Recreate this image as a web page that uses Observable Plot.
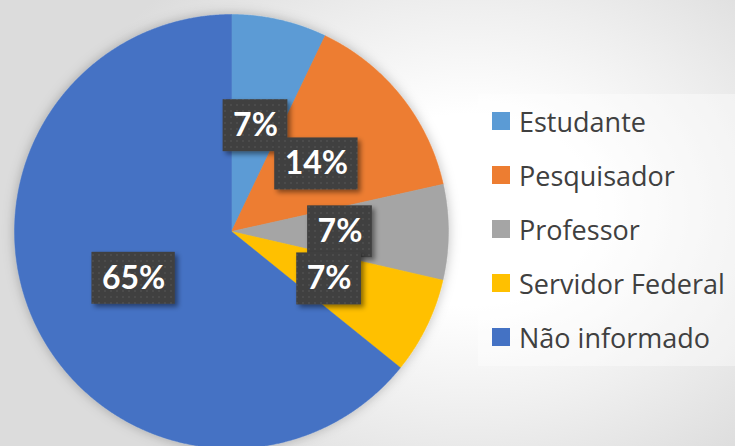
<!DOCTYPE html>
<html>
<head>
<meta charset="utf-8">
<script src="https://cdn.jsdelivr.net/npm/d3@7"></script>
<script src="https://cdn.jsdelivr.net/npm/@observablehq/plot@0.6"></script>
<style>
  html, body { margin: 0; padding: 0; }
  body {
    width: 735px; height: 446px; overflow: hidden;
    background: radial-gradient(ellipse 420px 320px at 470px 210px, #ffffff 0%, #ffffff 30%, #eeeeee 65%, #dcdcdc 100%);
  }
  #wrap { position: relative; width: 735px; height: 446px; }
  #chart svg { display: block; }
  #legend {
    position: absolute; left: 478px; top: 94px; width: 257px; height: 272px;
    background: rgba(255,255,255,0.4);
    font-family: "Open Sans", "Noto Sans", sans-serif; font-size: 27px; color: #404040;
  }
  .row { height: 54px; display: flex; align-items: center; white-space: nowrap; }
  .sw { width: 18px; height: 18px; margin-left: 14px; margin-right: 9px; flex: none; }
</style>
</head>
<body>
<div id="wrap">
  <div id="chart"></div>
  <div id="legend"></div>
</div>
<script>
const categories = ["Estudante", "Pesquisador", "Professor", "Servidor Federal", "Não informado"];
const shares = [7.1, 14.4, 7.1, 7.2, 64.2];
const labels = ["7%", "14%", "7%", "7%", "65%"];
const colors = ["#5B9BD5", "#ED7D31", "#A5A5A5", "#FFC000", "#4472C4"];

const R = 217;
const data = categories.map((c, i) => ({cat: c, share: shares[i], label: labels[i]}));
const arcs = d3.pie().sort(null).value(d => d.share)(data);

// slice outlines (center -> arc -> center)
const pts = [];
arcs.forEach(a => {
  const n = Math.max(4, Math.ceil((a.endAngle - a.startAngle) / 0.005));
  pts.push({cat: a.data.cat, x: 0, y: 0});
  for (let k = 0; k <= n; k++) {
    const t = a.startAngle + (a.endAngle - a.startAngle) * k / n;
    pts.push({cat: a.data.cat, x: R * Math.sin(t), y: -R * Math.cos(t)});
  }
  pts.push({cat: a.data.cat, x: 0, y: 0});
});

// label positions at half radius on mid angle
const ctx = document.createElement("canvas").getContext("2d");
ctx.font = "bold 32px Lato";
const labs = arcs.map(a => {
  const m = (a.startAngle + a.endAngle) / 2;
  const x = (R / 2) * Math.sin(m), y = -(R / 2) * Math.cos(m);
  const w = ctx.measureText(a.data.label).width + 20;
  const h = 52;
  return {label: a.data.label, x, y, x1: x - w / 2, x2: x + w / 2, y1: y - h / 2, y2: y + h / 2};
});

const svg = Plot.plot({
  width: 735, height: 446,
  marginTop: 0, marginRight: 0, marginBottom: 0, marginLeft: 0,
  style: {background: "transparent"},
  x: {domain: [-231, 504], range: [0, 735], axis: null},
  y: {domain: [-231, 215], range: [0, 446], axis: null},
  color: {domain: categories, range: colors},
  marks: [
    Plot.line(pts, {x: "x", y: "y", z: "cat", fill: "cat", stroke: "cat", strokeWidth: 0.5, curve: "linear"}),
    Plot.rect(labs, {x1: "x1", x2: "x2", y1: "y1", y2: "y2", fill: "url(#dots)"}),
    Plot.text(labs, {x: "x", y: "y", text: "label", fill: "white", fontSize: 32, fontWeight: "bold", fontFamily: "Lato, 'Noto Sans', sans-serif"})
  ]
});

const s = d3.select(svg);
const defs = s.insert("defs", ":first-child");
const pat = defs.append("pattern").attr("id", "dots").attr("patternUnits", "userSpaceOnUse")
  .attr("width", 6).attr("height", 6);
pat.append("rect").attr("width", 6).attr("height", 6).attr("fill", "#404040");
pat.append("rect").attr("x", 2).attr("y", 2).attr("width", 2).attr("height", 2).attr("fill", "#4c4c4c");
const f1 = defs.append("filter").attr("id", "boxShadow").attr("x", "-30%").attr("y", "-30%").attr("width", "160%").attr("height", "160%");
f1.append("feDropShadow").attr("dx", 3).attr("dy", 3).attr("stdDeviation", 2.5).attr("flood-color", "#000").attr("flood-opacity", 0.45);
const f2 = defs.append("filter").attr("id", "pieShadow").attr("x", "-10%").attr("y", "-10%").attr("width", "120%").attr("height", "120%");
f2.append("feDropShadow").attr("dx", 0).attr("dy", 0).attr("stdDeviation", 6).attr("flood-color", "#000").attr("flood-opacity", 0.25);
s.selectAll('g[aria-label="rect"] rect').attr("filter", "url(#boxShadow)");
s.select('g[aria-label="line"]').attr("filter", "url(#pieShadow)");

document.getElementById("chart").appendChild(svg);

const legend = d3.select("#legend");
categories.forEach((c, i) => {
  const row = legend.append("div").attr("class", "row");
  row.append("div").attr("class", "sw").style("background", colors[i]);
  row.append("span").text(c);
});
</script>
</body>
</html>
